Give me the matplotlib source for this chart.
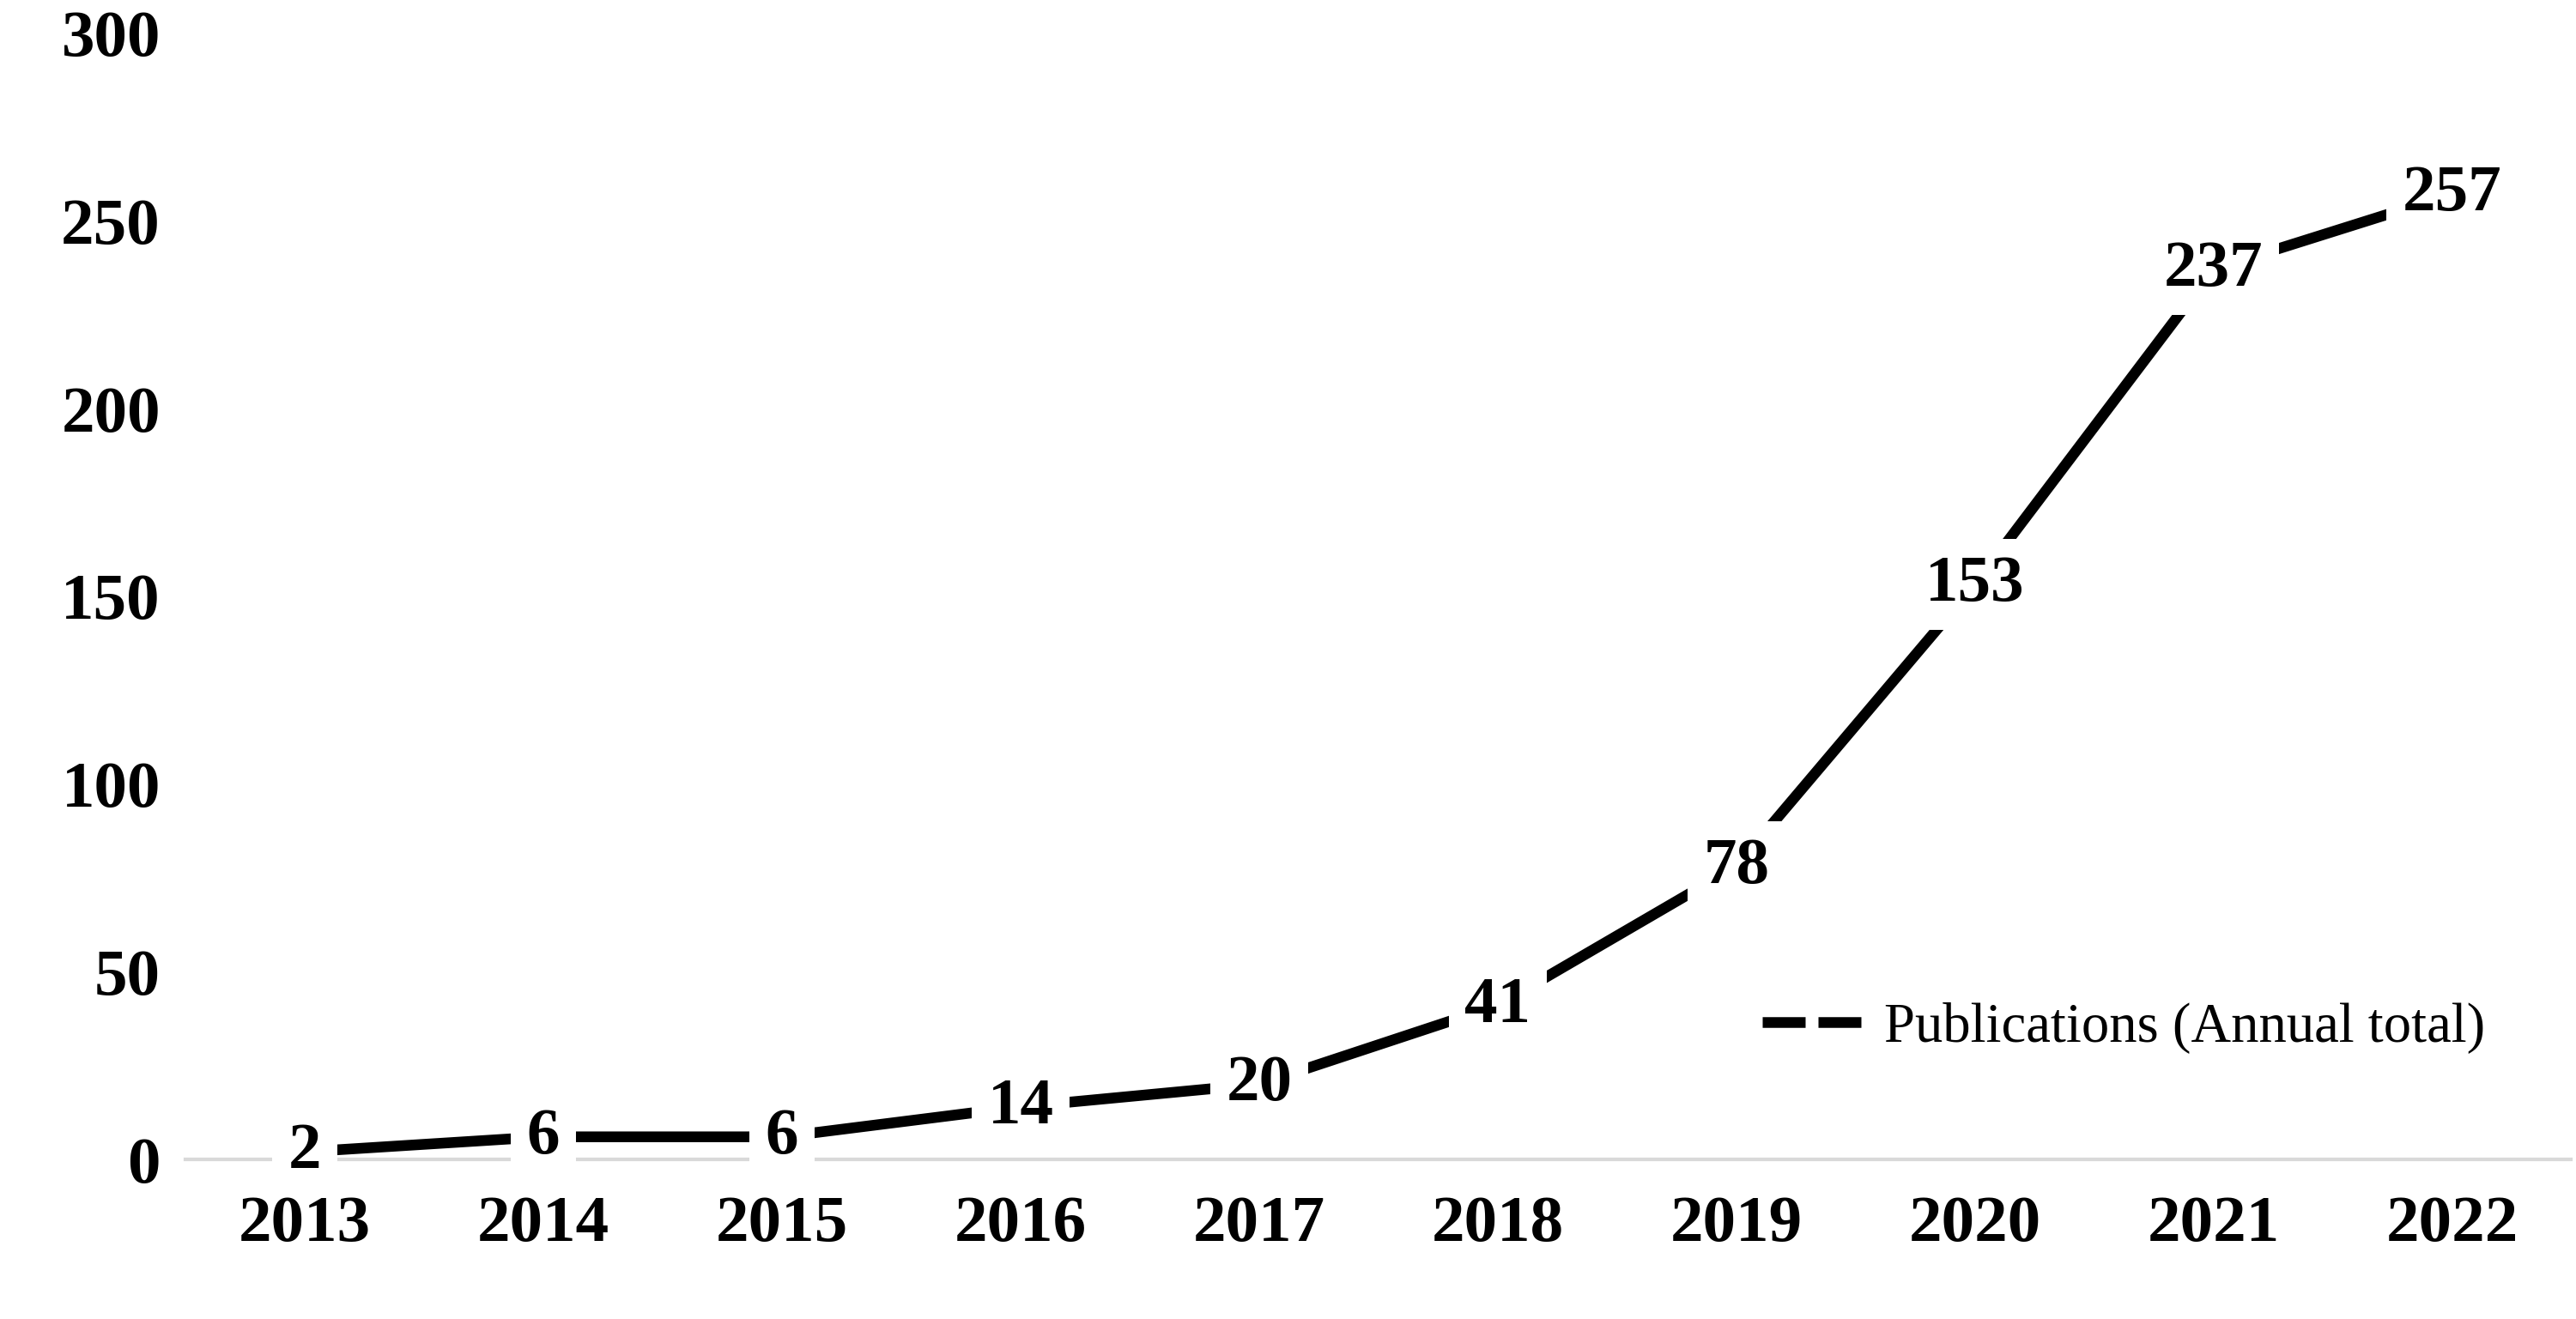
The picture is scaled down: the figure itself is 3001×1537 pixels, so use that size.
import matplotlib.pyplot as plt
import numpy as np

years = ['2013', '2014', '2015', '2016', '2017', '2018', '2019', '2020', '2021', '2022']
publications = [2, 6, 6, 14, 20, 41, 78, 153, 237, 257]

plt.rcParams['font.family'] = ['Liberation Serif', 'DejaVu Serif']

fig = plt.figure(figsize=(20.01, 10.25), dpi=150)
ax = fig.add_axes([0.072, 0.121, 0.926, 0.854])

x = np.arange(len(years))
ax.plot(x, publications, color='black', lw=6, solid_capstyle='butt',
        label='Publications (Annual total)', zorder=2)
for xi, v in zip(x, publications):
    ax.text(xi, v, str(v), ha='center', va='center', fontsize=37, fontweight='bold',
            bbox=dict(facecolor='white', edgecolor='none', pad=9), zorder=3)

ax.set_xlim(-0.5, len(years) - 0.5)
ax.set_ylim(0, 300)
ax.set_yticks(range(0, 301, 50))
ax.set_xticks(x)
ax.set_xticklabels(years)
for lab in ax.get_xticklabels() + ax.get_yticklabels():
    lab.set_fontsize(37)
    lab.set_fontweight('bold')
ax.tick_params(length=0, pad=14)
ax.tick_params(axis='x', pad=20)
for s in ['top', 'right', 'left']:
    ax.spines[s].set_visible(False)
ax.spines['bottom'].set_color('#d9d9d9')
ax.spines['bottom'].set_linewidth(2)

leg_line, = ax.plot([], [], color='black', lw=6, ls=(0, (4, 1.2)))
ax.legend([leg_line], ['Publications (Annual total)'], loc='lower right',
          bbox_to_anchor=(0.985, 0.05), frameon=False, fontsize=31,
          handlelength=2.0, handletextpad=0.2)

fig.savefig('out.png', dpi=150)
